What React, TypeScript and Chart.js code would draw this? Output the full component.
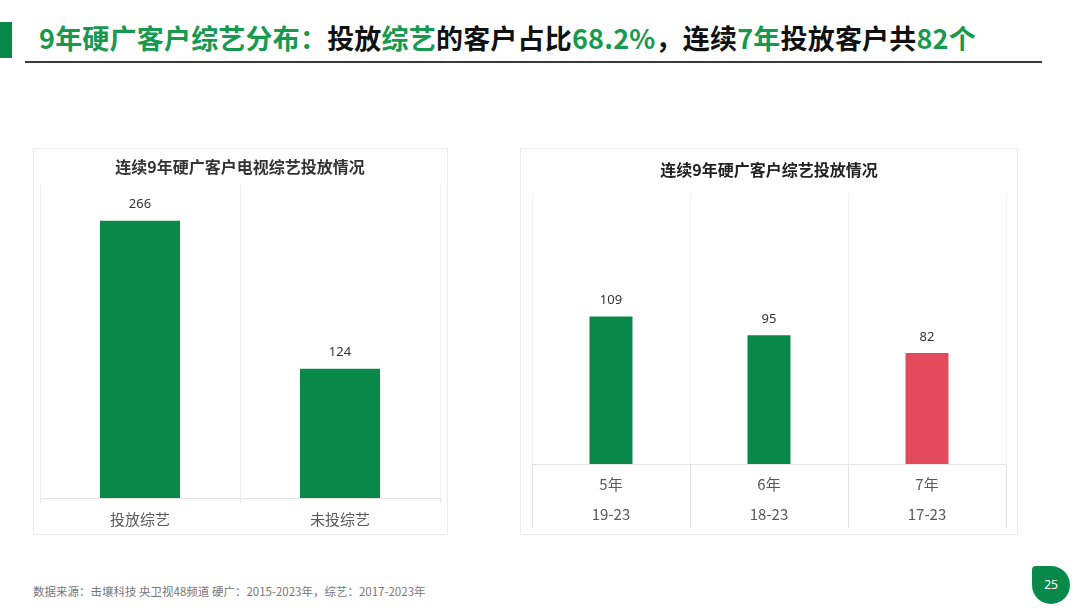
import React, { useEffect, useRef } from 'react';
import { Chart, registerables } from 'chart.js';

Chart.register(...registerables);

const GREEN = '#08894a';
const RED = '#e14b5b';
const TITLE_GREEN = '#17994f';

const leftTitle = '连续9年硬广客户电视综艺投放情况';
const leftCategories = ['投放综艺', '未投综艺'];
const leftValues = [266, 124];
const leftMax = 300;

const rightTitle = '连续9年硬广客户综艺投放情况';
const rightCategories = [
  ['5年', '19-23'],
  ['6年', '18-23'],
  ['7年', '17-23'],
];
const rightValues = [109, 95, 82];
const rightColors = [GREEN, GREEN, RED];
const rightMax = 200;

const FONT = '"Noto Sans CJK SC", "Noto Sans", sans-serif';
Chart.defaults.font.family = FONT;

const valueLabelPlugin = {
  id: 'valueLabels',
  afterDatasetsDraw(chart: any) {
    const ctx = chart.ctx;
    chart.data.datasets.forEach((ds: any, i: number) => {
      const meta = chart.getDatasetMeta(i);
      meta.data.forEach((el: any, j: number) => {
        ctx.save();
        ctx.font = '13px "Noto Sans", sans-serif';
        ctx.fillStyle = '#333333';
        ctx.textAlign = 'center';
        ctx.textBaseline = 'middle';
        ctx.fillText(String(ds.data[j]), el.x, el.y - 16);
        ctx.restore();
      });
    });
  },
};

// Table-style separators under the category axis, at the category boundaries
const tableLinesPlugin = {
  id: 'tableLines',
  afterDraw(chart: any) {
    const scale = chart.scales.x;
    const ctx = chart.ctx;
    const n = chart.data.labels.length;
    const top = chart.chartArea.bottom;
    const bottom = top + 64;
    ctx.save();
    ctx.strokeStyle = '#e2e2e2';
    ctx.lineWidth = 1;
    for (let i = 0; i <= n; i++) {
      const x = Math.round(scale.getPixelForValue(i - 0.5)) + 0.5;
      ctx.beginPath();
      ctx.moveTo(x, top);
      ctx.lineTo(x, bottom);
      ctx.stroke();
    }
    ctx.restore();
  },
};

function LeftChart() {
  const ref = useRef<HTMLCanvasElement>(null);
  useEffect(() => {
    const chart = new Chart(ref.current as HTMLCanvasElement, {
      type: 'bar',
      data: {
        labels: leftCategories,
        datasets: [
          {
            data: leftValues,
            backgroundColor: GREEN,
            barPercentage: 0.4,
            categoryPercentage: 1,
          },
        ],
      },
      options: {
        responsive: false,
        animation: false,
        layout: { padding: { left: 7, right: 8, top: 0, bottom: 0 } },
        plugins: {
          legend: { display: false },
          tooltip: { enabled: false },
          title: {
            display: true,
            text: leftTitle,
            color: '#333333',
            font: { size: 16, weight: 'bold' },
            padding: { top: 9, bottom: 9 },
          },
        },
        scales: {
          x: {
            grid: { color: '#f0f0f0', tickColor: '#e4e4e4', tickLength: 5, offset: true },
            border: { color: '#e2e2e2' },
            ticks: { color: '#595959', font: { size: 15 }, padding: 7 },
          },
          y: { display: false, min: 0, max: leftMax },
        },
      },
      plugins: [valueLabelPlugin],
    } as any);
    return () => chart.destroy();
  }, []);
  return (
    <canvas
      ref={ref}
      width={415}
      height={387}
      style={{ position: 'absolute', left: 33, top: 148, width: 415, height: 387 }}
    />
  );
}

function RightChart() {
  const ref = useRef<HTMLCanvasElement>(null);
  useEffect(() => {
    const chart = new Chart(ref.current as HTMLCanvasElement, {
      type: 'bar',
      data: {
        labels: rightCategories,
        datasets: [
          {
            data: rightValues,
            backgroundColor: rightColors,
            barPercentage: 0.272,
            categoryPercentage: 1,
          },
        ],
      },
      options: {
        responsive: false,
        animation: false,
        layout: { padding: { left: 12, right: 12, top: 0, bottom: 1 } },
        plugins: {
          legend: { display: false },
          tooltip: { enabled: false },
          title: {
            display: true,
            text: rightTitle,
            color: '#222222',
            font: { size: 16, weight: 'bold' },
            padding: { top: 12, bottom: 14 },
          },
        },
        scales: {
          x: {
            grid: { color: '#f3f3f3', drawTicks: false, offset: true },
            border: { color: '#e2e2e2' },
            ticks: { color: '#595959', font: { size: 15, lineHeight: 2 }, padding: 5 },
          },
          y: { display: false, min: 0, max: rightMax },
        },
      },
      plugins: [valueLabelPlugin, tableLinesPlugin],
    } as any);
    return () => chart.destroy();
  }, []);
  return (
    <canvas
      ref={ref}
      width={498}
      height={387}
      style={{ position: 'absolute', left: 520, top: 148, width: 498, height: 387 }}
    />
  );
}

export default function App() {
  const g = { color: TITLE_GREEN };
  return (
    <div
      style={{
        position: 'absolute',
        left: 0,
        top: 0,
        width: 1080,
        height: 608,
        background: '#ffffff',
        overflow: 'hidden',
        fontFamily: FONT,
      }}
    >
      <div style={{ position: 'absolute', left: 0, top: 22, width: 12, height: 36, background: GREEN }} />
      <div
        style={{
          position: 'absolute',
          left: 39,
          top: 18,
          height: 40,
          lineHeight: '40px',
          fontSize: 27,
          fontWeight: 700,
          color: '#111111',
          whiteSpace: 'nowrap',
          letterSpacing: 0.2,
        }}
      >
        <span style={g}>9年硬广客户综艺分布：</span>
        <span>投放</span>
        <span style={g}>综艺</span>
        <span>的客户占比</span>
        <span style={g}>68.2%</span>
        <span>，连续</span>
        <span style={g}>7年</span>
        <span>投放客户共</span>
        <span style={g}>82个</span>
      </div>
      <div style={{ position: 'absolute', left: 25, top: 61, width: 1017, height: 2, background: '#3a3a3a' }} />

      <div
        style={{
          position: 'absolute',
          left: 33,
          top: 148,
          width: 415,
          height: 387,
          boxSizing: 'border-box',
          border: '1px solid #ececec',
        }}
      />
      <div
        style={{
          position: 'absolute',
          left: 520,
          top: 148,
          width: 498,
          height: 387,
          boxSizing: 'border-box',
          border: '1px solid #ececec',
        }}
      />
      <LeftChart />
      <RightChart />

      <div
        style={{
          position: 'absolute',
          left: 33,
          top: 583,
          fontSize: 11.5,
          color: '#777777',
          whiteSpace: 'nowrap',
        }}
      >
        数据来源：击壤科技 央卫视48频道 硬广：2015-2023年，综艺：2017-2023年
      </div>
      <div
        style={{
          position: 'absolute',
          left: 1032,
          top: 566,
          width: 38,
          height: 38,
          background: GREEN,
          borderRadius: '4px 50% 50% 50%',
          color: '#ffffff',
          fontSize: 12,
          lineHeight: '38px',
          textAlign: 'center',
          fontFamily: '"Noto Sans", sans-serif',
        }}
      >
        25
      </div>
    </div>
  );
}
